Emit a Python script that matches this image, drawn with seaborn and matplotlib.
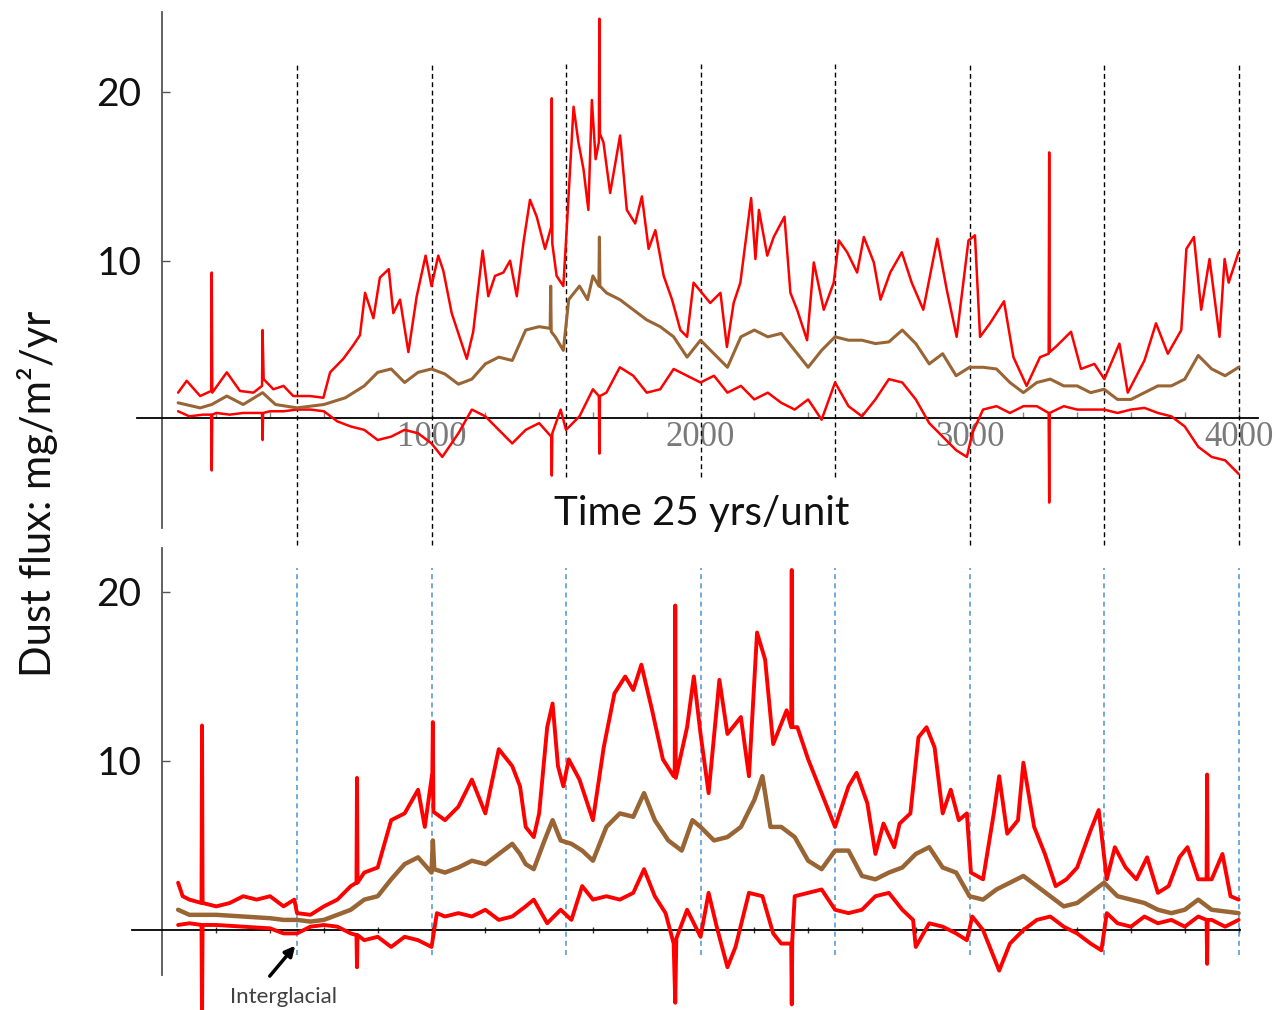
import matplotlib
matplotlib.use("Agg")
import matplotlib.pyplot as plt
import seaborn as sns

# ---------------- data: dust flux (mg/m^2/yr) vs time (25 yrs/unit) ----------------
# Upper panel
top_upper_x = [58, 90, 140, 181, 183, 185, 239, 288, 338, 370, 372, 376, 412, 450, 486, 548, 598,
               623, 672, 709, 734, 753, 784, 808, 841, 858, 883, 914, 945, 978, 1000, 1025, 1044,
               1075, 1106, 1131, 1155, 1190, 1211, 1236, 1267, 1292, 1317, 1342, 1366, 1391, 1422,
               1445, 1447, 1449, 1465, 1490, 1503, 1528, 1546, 1565, 1583, 1596, 1610, 1622, 1624,
               1626, 1639, 1664, 1701, 1726, 1757, 1782, 1807, 1832, 1863, 1894, 1925, 1950, 1974,
               2005, 2036, 2074, 2098, 2123, 2148, 2188, 2204, 2217, 2248, 2272, 2312, 2334, 2359,
               2396, 2421, 2458, 2495, 2514, 2545, 2582, 2607, 2644, 2669, 2705, 2748, 2785, 2828,
               2880, 2915, 2952, 2996, 3020, 3039, 3076, 3128, 3163, 3212, 3262, 3294, 3296, 3298,
               3320, 3377, 3414, 3464, 3501, 3557, 3588, 3650, 3693, 3737, 3787, 3806, 3834, 3861,
               3892, 3929, 3948, 3963, 4000]
top_upper_y = [2.2, 2.9, 2.0, 2.3, 9.3, 2.2, 3.4, 2.3, 2.2, 2.6, 5.9, 3.0, 2.4, 2.6, 2.0, 2.0, 1.9,
               3.4, 4.2, 5.0, 5.6, 8.1, 6.6, 9.0, 9.5, 6.9, 7.7, 4.6, 7.9, 10.3, 8.5, 10.3, 9.4,
               6.9, 5.4, 4.2, 5.8, 10.6, 7.9, 9.1, 9.3, 10.0, 7.9, 11.1, 13.6, 12.6, 10.7,
               12.0, 19.6, 11.0, 9.1, 8.5, 12.0, 19.1, 17.0, 15.4, 13.0, 19.5, 16.0, 17.0, 24.3,
               17.5, 17.0, 14.0, 17.4, 13.0, 12.2, 13.8, 10.7, 11.8, 9.1, 7.7, 5.9, 5.5, 8.7,
               8.1, 7.5, 8.1, 4.9, 7.5, 8.7, 13.7, 10.1, 13.0, 10.3, 11.4, 12.6, 8.1, 7.1,
               5.3, 9.9, 7.1, 8.7, 11.2, 10.5, 9.3, 11.4, 9.9, 7.7, 9.3, 10.5, 8.7, 7.1,
               11.3, 8.3, 5.5, 11.2, 11.5, 5.5, 6.3, 7.6, 4.3, 2.6, 4.3, 4.5, 16.4, 4.6,
               4.9, 5.8, 3.6, 3.9, 3.0, 5.1, 2.2, 4.1, 6.3, 4.5, 5.9, 10.7, 11.4, 7.1,
               10.1, 5.5, 10.1, 8.7, 10.5]

top_mean_x = [58, 140, 183, 239, 300, 372, 420, 500, 600, 680, 750, 800, 850, 900, 950, 1000, 1050,
              1100, 1150, 1200, 1250, 1300, 1350, 1400, 1441, 1443, 1445, 1460, 1490, 1510, 1550,
              1580, 1600, 1622, 1624, 1626, 1650, 1700, 1750, 1800, 1850, 1900, 1950, 2000, 2050,
              2100, 2150, 2200, 2250, 2300, 2350, 2400, 2450, 2500, 2550, 2600, 2650, 2700, 2750,
              2800, 2850, 2900, 2950, 3000, 3050, 3100, 3150, 3200, 3250, 3300, 3350, 3400, 3450,
              3500, 3550, 3600, 3650, 3700, 3750, 3800, 3850, 3900, 3950, 4000]
top_mean_y = [1.6, 1.3, 1.5, 2.0, 1.5, 2.2, 1.5, 1.3, 1.5, 1.9, 2.6, 3.4, 3.6, 2.8, 3.4, 3.6, 3.3,
              2.7, 3.0, 3.9, 4.3, 4.1, 5.9, 6.1, 6.0, 8.5, 5.8, 5.5, 4.7, 7.7, 8.5,
              7.7, 9.1, 8.5, 11.4, 8.5, 8.1, 7.7, 7.1, 6.5, 6.1, 5.5, 4.3, 5.3, 4.5,
              3.7, 5.5, 5.9, 5.5, 5.7, 4.7, 3.7, 4.7, 5.5, 5.3, 5.3, 5.1, 5.2, 5.9,
              5.1, 3.9, 4.5, 3.2, 3.7, 3.7, 3.6, 2.8, 2.2, 2.8, 3.0, 2.6, 2.6, 2.2,
              2.4, 1.8, 1.8, 2.2, 2.6, 2.6, 3.0, 4.4, 3.6, 3.2, 3.7]

top_lower_x = [58, 100, 150, 181, 183, 185, 200, 250, 300, 370, 372, 374, 400, 450, 500, 550, 600,
               650, 700, 750, 800, 850, 900, 950, 1000, 1040, 1100, 1150, 1200, 1250, 1300, 1350,
               1400, 1445, 1447, 1449, 1480, 1500, 1550, 1600, 1622, 1624, 1626, 1650, 1700, 1750,
               1800, 1850, 1900, 1950, 2000, 2050, 2100, 2150, 2200, 2250, 2300, 2350, 2400, 2450,
               2500, 2550, 2600, 2650, 2700, 2750, 2800, 2850, 2900, 2950, 2990, 3010, 3050, 3100,
               3150, 3200, 3250, 3294, 3296, 3298, 3350, 3400, 3450, 3500, 3550, 3600, 3650, 3700,
               3750, 3800, 3850, 3900, 3950, 4000]
top_lower_y = [1.1, 0.8, 0.9, 0.9, -2.4, 0.9, 1.0, 0.9, 1.0, 1.0, -0.6, 1.0, 1.1, 1.1, 1.2, 1.2, 1.1,
               0.5, 0.2, 0.0, -0.6, -0.4, 0.0, -0.2, -0.8, -1.6, -0.2, 1.2, 0.8, 0.0, -0.8, 0.0,
               0.4, -0.4, -2.7, -0.2, 1.2, 0.0, 0.8, 2.4, 2.0, -1.4, 2.0, 2.2, 3.7, 3.2,
               2.2, 2.4, 3.6, 3.2, 2.8, 3.2, 2.2, 2.6, 1.8, 2.2, 1.6, 1.2, 1.8, 0.6,
               2.8, 1.4, 0.8, 1.8, 3.0, 2.8, 1.8, 0.4, -0.4, -1.2, -1.6, -0.2, 1.2, 1.4,
               1.0, 1.4, 1.4, 1.0, -4.3, 1.0, 1.4, 1.2, 1.2, 1.2, 1.0, 1.2, 1.3, 1.0,
               0.8, 0.2, -1.0, -1.6, -1.8, -2.6]

# Lower panel
bot_upper_x = [58, 75, 100, 145, 147, 149, 200, 250, 300, 350, 400, 450, 490, 500, 550, 600, 650,
               700, 721, 723, 725, 750, 800, 850, 900, 950, 975, 1003, 1005, 1007, 1050, 1100, 1150,
               1200, 1250, 1300, 1329, 1350, 1380, 1400, 1430, 1450, 1470, 1490, 1510, 1550, 1600,
               1640, 1680, 1720, 1750, 1780, 1820, 1860, 1900, 1904, 1906, 1908, 1950, 1975, 2000,
               2030, 2070, 2100, 2150, 2180, 2210, 2240, 2270, 2320, 2337, 2339, 2341, 2360, 2400,
               2450, 2500, 2550, 2580, 2620, 2650, 2680, 2720, 2740, 2780, 2810, 2840, 2870, 2900,
               2930, 2960, 2990, 3005, 3050, 3090, 3110, 3140, 3180, 3200, 3240, 3280, 3320, 3360,
               3400, 3450, 3480, 3510, 3540, 3580, 3620, 3660, 3700, 3740, 3780, 3810, 3850, 3881,
               3883, 3885, 3900, 3940, 3970, 4000]
bot_upper_y = [2.8, 2.0, 1.8, 1.6, 12.1, 1.6, 1.4, 1.6, 2.0, 1.8, 2.0, 1.4, 1.8, 1.0, 0.9, 1.4, 1.8,
               2.6, 2.8, 9.0, 2.8, 3.4, 3.7, 6.5, 6.9, 8.3, 6.1, 9.3, 12.3, 7.0, 6.5, 7.3, 8.9,
               6.9, 10.7, 9.7, 8.5, 6.1, 5.5, 6.9, 12.0, 13.4, 9.7, 8.5, 10.1, 8.9, 6.5,
               10.8, 14.0, 15.0, 14.2, 15.7, 13.0, 10.1, 9.1, 9.5, 19.2, 9.0, 12.0, 15.0, 11.6,
               8.1, 14.8, 11.6, 12.6, 9.1, 17.6, 16.0, 11.0, 13.0, 12.0, 21.3, 12.0, 12.0, 10.1,
               8.1, 6.1, 8.5, 9.3, 7.5, 4.5, 6.3, 4.9, 6.3, 6.9, 11.4, 12.0, 10.8, 6.9,
               8.3, 6.5, 6.9, 3.4, 3.0, 6.9, 9.1, 5.7, 6.5, 9.9, 6.1, 4.5, 2.6, 3.0,
               3.7, 5.9, 7.1, 3.0, 4.9, 3.7, 3.0, 4.3, 2.2, 2.6, 4.3, 4.9, 3.0, 3.0,
               9.2, 3.0, 3.0, 4.5, 2.0, 1.8]

bot_mean_x = [58, 100, 147, 200, 300, 400, 450, 500, 550, 600, 650, 700, 750, 800, 850, 900, 950,
              1000, 1005, 1010, 1050, 1100, 1150, 1200, 1250, 1300, 1329, 1350, 1380, 1420, 1450,
              1480, 1520, 1560, 1600, 1650, 1700, 1750, 1790, 1830, 1880, 1930, 1970, 2000, 2050,
              2100, 2150, 2200, 2230, 2260, 2300, 2350, 2400, 2450, 2500, 2550, 2600, 2650, 2700,
              2750, 2800, 2850, 2900, 2950, 3000, 3050, 3100, 3150, 3200, 3250, 3300, 3350, 3400,
              3450, 3500, 3550, 3600, 3650, 3700, 3750, 3800, 3850, 3900, 3950, 4000]
bot_mean_y = [1.2, 0.9, 0.9, 0.9, 0.8, 0.7, 0.6, 0.6, 0.5, 0.6, 0.9, 1.2, 1.8, 2.0, 3.0, 3.9, 4.3,
              3.4, 5.3, 3.6, 3.4, 3.7, 4.1, 3.9, 4.5, 5.1, 4.5, 3.9, 3.6, 5.3, 6.5,
              5.3, 5.1, 4.7, 4.1, 6.1, 6.9, 6.7, 8.1, 6.5, 5.3, 4.7, 6.5, 6.1, 5.3,
              5.5, 6.1, 7.7, 9.1, 6.1, 6.1, 5.5, 4.1, 3.6, 4.7, 4.7, 3.2, 3.0, 3.4,
              3.7, 4.5, 4.9, 3.7, 3.4, 2.0, 1.8, 2.4, 2.8, 3.2, 2.6, 2.0, 1.4, 1.6,
              2.2, 2.8, 2.0, 1.8, 1.6, 1.2, 1.0, 1.2, 1.8, 1.2, 1.1, 1.0]

bot_lower_x = [58, 100, 145, 147, 149, 200, 300, 400, 450, 500, 550, 600, 650, 700, 721, 723, 725,
               750, 800, 850, 900, 950, 1000, 1020, 1050, 1100, 1150, 1200, 1250, 1300, 1350, 1380,
               1430, 1480, 1520, 1560, 1600, 1650, 1700, 1750, 1790, 1830, 1870, 1900, 1906, 1910,
               1950, 2000, 2030, 2060, 2100, 2130, 2180, 2230, 2270, 2300, 2337, 2339, 2341, 2350,
               2400, 2450, 2500, 2550, 2600, 2650, 2700, 2750, 2790, 2800, 2850, 2900, 2950, 2990,
               3010, 3050, 3090, 3110, 3150, 3200, 3250, 3300, 3350, 3400, 3450, 3490, 3510, 3550,
               3600, 3650, 3700, 3750, 3800, 3850, 3881, 3883, 3885, 3900, 3950, 4000]
bot_lower_y = [0.3, 0.4, 0.3, -5.5, 0.3, 0.3, 0.2, 0.1, -0.2, -0.2, 0.2, 0.3, 0.2, -0.2, -0.3, -2.2, -0.3,
               -0.6, -0.4, -1.0, -0.4, -0.6, -1.0, 1.0, 0.8, 1.0, 0.8, 1.2, 0.6, 0.8, 1.4, 1.8,
               0.4, 1.2, 0.6, 2.6, 1.8, 2.0, 1.8, 2.2, 3.6, 2.0, 1.0, -0.8, -4.3, -0.5,
               1.2, -0.4, 2.2, 0.2, -2.2, -1.0, 2.2, 2.0, -0.2, -0.8, -0.8, -4.4, -0.6, 2.0,
               2.2, 2.4, 1.2, 1.0, 1.2, 2.0, 2.2, 1.2, 0.6, -1.0, 0.4, 0.2, -0.2, -0.6,
               0.8, 0.0, -1.6, -2.4, -0.8, 0.0, 0.6, 0.8, 0.2, -0.2, -0.8, -1.2, 1.0, 0.4,
               0.2, 0.8, 0.4, 0.6, 0.2, 0.8, 0.6, -2.0, 0.6, 0.6, 0.2, 0.6]

x_tick_labels = ["1000", "2000", "3000", "4000"]
y_tick_values = [10, 20]
glacial_marks = [500, 1000, 1500, 2000, 2500, 3000, 3500, 4000]

RED = "#ff0000"
BROWN = "#9a6535"
BLUE = "#5b9bd5"

sns.set_style("white")
plt.rcParams["font.family"] = ["Lato", "DejaVu Sans"]

W, H = 1281, 1010
fig = plt.figure(figsize=(W / 100, H / 100), dpi=100)

XLIM = (-120.8, 4087)
ax_top = fig.add_axes([130 / W, 1 - 528 / H, 1132 / W, 516 / H])
ax_bot = fig.add_axes([130 / W, 0.0, 1132 / W, 462 / H])


def draw_series(ax, lw_red, lw_mean, xs_u, ys_u, xs_m, ys_m, xs_l, ys_l):
    sns.lineplot(x=xs_u, y=ys_u, ax=ax, color=RED, linewidth=lw_red, sort=False,
                 estimator=None, zorder=3)
    sns.lineplot(x=xs_l, y=ys_l, ax=ax, color=RED, linewidth=lw_red, sort=False,
                 estimator=None, zorder=3)
    sns.lineplot(x=xs_m, y=ys_m, ax=ax, color=BROWN, linewidth=lw_mean, sort=False,
                 estimator=None, zorder=4)


draw_series(ax_top, 1.8, 2.2, top_upper_x, top_upper_y, top_mean_x, top_mean_y,
            top_lower_x, top_lower_y)
draw_series(ax_bot, 2.8, 3.2, bot_upper_x, bot_upper_y, bot_mean_x, bot_mean_y,
            bot_lower_x, bot_lower_y)

for ax in (ax_top, ax_bot):
    ax.set_xlim(*XLIM)
    ax.set_facecolor("none")
    ax.set_xlabel("")
    ax.set_ylabel("")
    ax.spines["top"].set_visible(False)
    ax.spines["right"].set_visible(False)
    ax.spines["left"].set_position(("data", 0))
    ax.spines["left"].set_color("#555555")
    ax.spines["left"].set_linewidth(1.3)
    ax.spines["bottom"].set_color("black")
    ax.spines["bottom"].set_linewidth(1.3)
    ax.set_yticks(y_tick_values)
    ax.set_yticklabels([str(v) for v in y_tick_values], fontsize=28, color="#111111")
    ax.tick_params(axis="y", direction="in", length=6, width=1, color="#555555", pad=15,
                   left=True)
    ax.set_axisbelow(True)

# upper panel axes
ax_top.set_ylim(-5.8, 24.7)
ax_top.spines["bottom"].set_position(("data", 0.7))
ax_top.spines["bottom"].set_bounds(-95, 4072)
ax_top.set_xticks([1000, 2000, 3000, 4000])
ax_top.set_xticklabels(x_tick_labels, fontsize=25, color="#7a7a7a",
                       family=["Liberation Serif", "DejaVu Serif"])
ax_top.set_xticks(range(200, 4001, 200), minor=True)
ax_top.tick_params(axis="x", which="both", direction="in", length=4, width=1,
                   color="#888888", pad=2, bottom=True)

top_long = [500, 1000, 3000, 3500, 4000]
for xv in glacial_marks:
    low = -6.8 if xv in top_long else -2.8
    ax_top.vlines(xv, low, 21.6, colors="black", linestyles=(0, (3.5, 2.5)),
                  linewidth=1.0, clip_on=False, zorder=1)

# lower panel axes
ax_bot.set_ylim(-4.73, 22.6)
ax_bot.spines["bottom"].set_position(("data", 0))
ax_bot.spines["bottom"].set_bounds(-113, 4005)
ax_bot.spines["left"].set_bounds(-2.65, 22.6)
ax_bot.set_xticks(range(200, 4001, 200))
ax_bot.set_xticklabels([])
ax_bot.tick_params(axis="x", direction="inout", length=5, width=1, color="#333333",
                   bottom=True)
for xv in glacial_marks:
    ax_bot.vlines(xv, -1.5, 21.4, colors=BLUE, linestyles=(0, (3, 2.5)),
                  linewidth=1.2, clip_on=False, zorder=1)

ax_bot.annotate("", xy=(500, -0.8), xytext=(392, -2.85),
                arrowprops=dict(arrowstyle="-|>,head_length=0.6,head_width=0.3",
                                color="black", lw=2.5))
ax_bot.text(448, -3.96, "Interglacial", fontsize=16, color="#404040",
            ha="center", va="center")

fig.text(702 / W, 1 - 514 / H, "Time 25 yrs/unit", fontsize=29, ha="center", va="center",
         color="#111111")
fig.text(38 / W, 1 - 494 / H, "Dust flux: mg/m²/yr", fontsize=30, rotation=90,
         ha="center", va="center", color="#111111")

fig.savefig("out.png", dpi=100)
